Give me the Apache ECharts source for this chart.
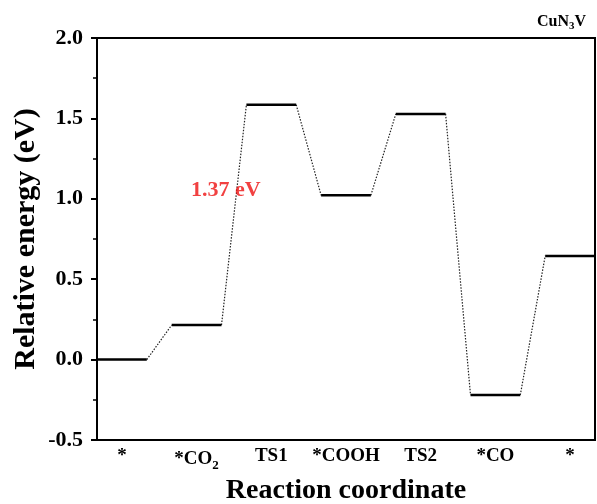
<!DOCTYPE html>
<html><head><meta charset="utf-8">
<script src="https://cdn.jsdelivr.net/npm/echarts@6/dist/echarts.min.js"></script>
<style>html,body{margin:0;padding:0;background:#fff}#c{width:597px;height:504px}</style>
</head><body><div id="c"></div>
<script>
const categories = ['*', '*CO2', 'TS1', '*COOH', 'TS2', '*CO', '*'];
const energies = [0.0, 0.215, 1.585, 1.022, 1.528, -0.22, 0.645];
const yTicks = [-0.5, 0.0, 0.5, 1.0, 1.5, 2.0];
const barrierLabel = '1.37 eV';
const barrierPos = [1.39, 1.05];
const halfWidth = 1/3;

const solid = [], dotted = [];
energies.forEach((e, i) => {
  solid.push([i - halfWidth, e], [i + halfWidth, e], [null, null]);
  if (i < energies.length - 1) {
    dotted.push([i + halfWidth, e], [i + 1 - halfWidth, energies[i + 1]], [null, null]);
  }
});

const F = '"Liberation Serif","Times New Roman",serif';
const chart = echarts.init(document.getElementById('c'));
chart.setOption({
  animation: false,
  title: {
    text: 'CuN{s|3}V', right: 6, top: 7,
    textStyle: { fontFamily: F, fontWeight: 'bold', fontSize: 16, color: '#000',
      rich: { s: { fontFamily: F, fontWeight: 'bold', fontSize: 11, color: '#000', verticalAlign: 'bottom', padding: [9, 0, 0, 0] } } }
  },
  grid: { left: 97, right: 2, top: 38, bottom: 64, show: true, borderColor: '#000', borderWidth: 2,
    containLabel: false, outerBoundsMode: 'none' },
  xAxis: {
    type: 'value', min: -halfWidth, max: energies.length - 1 + halfWidth,
    name: 'Reaction coordinate', nameLocation: 'middle', nameGap: 31,
    nameTextStyle: { fontFamily: F, fontWeight: 'bold', fontSize: 28, color: '#000' },
    axisLine: { onZero: false, lineStyle: { color: '#000', width: 2 } },
    axisTick: { show: false },
    splitLine: { show: false },
    axisLabel: {
      customValues: categories.map((c, i) => i),
      margin: 7,
      fontFamily: F, fontWeight: 'bold', fontSize: 19, color: '#000',
      formatter: v => {
        const c = categories[Math.round(v)];
        return c === '*CO2' ? '*CO{s|2}' : c;
      },
      rich: { s: { fontFamily: F, fontWeight: 'bold', fontSize: 13, color: '#000', verticalAlign: 'bottom', padding: [12, 0, 0, 0] } }
    }
  },
  yAxis: {
    type: 'value', min: -0.5, max: 2.0, interval: 0.5,
    name: 'Relative energy (eV)', nameLocation: 'middle', nameGap: 56, nameMoveOverlap: false,
    nameTextStyle: { fontFamily: F, fontWeight: 'bold', fontSize: 30, color: '#000' },
    axisLine: { show: true, onZero: false, lineStyle: { color: '#000', width: 2 } },
    axisTick: { show: true, inside: false, length: 6, lineStyle: { color: '#000', width: 2 } },
    minorTick: { show: true, splitNumber: 2, length: 4, lineStyle: { color: '#000', width: 1.5 } },
    splitLine: { show: false },
    axisLabel: {
      margin: 14, fontFamily: F, fontWeight: 'bold', fontSize: 22, color: '#000',
      formatter: v => yTicks.includes(+v.toFixed(1)) ? v.toFixed(1) : ''
    }
  },
  series: [
    { type: 'line', data: dotted, symbol: 'none', connectNulls: false,
      lineStyle: { color: '#222', width: 1.2, type: [1.5, 1.5] }, z: 2 },
    { type: 'line', data: solid, symbol: 'none', connectNulls: false,
      lineStyle: { color: '#000', width: 2.5 }, z: 3 },
    { type: 'scatter', data: [barrierPos], symbolSize: 0,
      label: { show: true, position: 'inside', formatter: barrierLabel,
        fontFamily: F, fontWeight: 'bold', fontSize: 22, color: '#ee1111' }, z: 4 }
  ]
});
</script></body></html>
